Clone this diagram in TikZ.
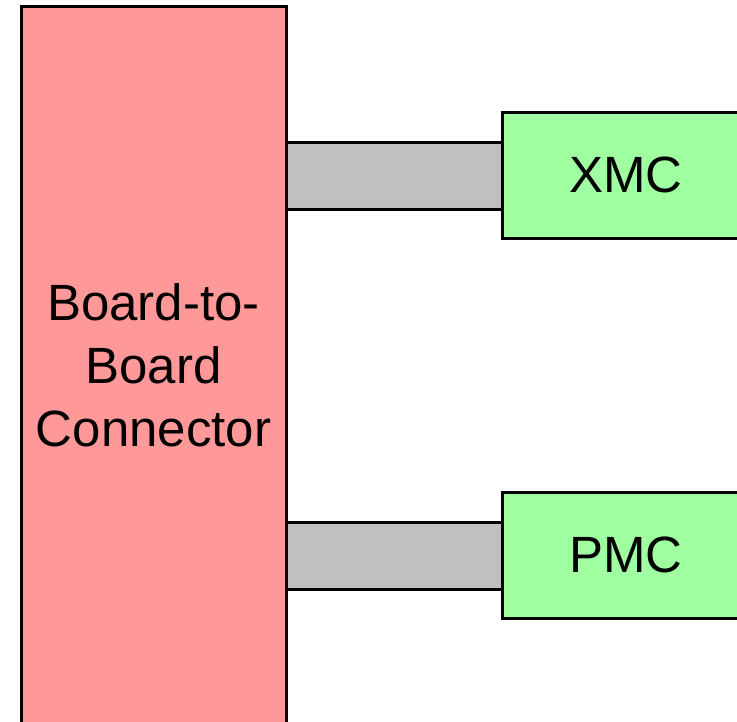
\documentclass[tikz,border=0pt]{standalone}
\usepackage{fontspec}
\setmainfont{Liberation Sans}
\definecolor{redfill}{HTML}{FF9999}
\definecolor{greenfill}{HTML}{A0FFA0}
\definecolor{grayfill}{HTML}{C0C0C0}
\begin{document}
\begin{tikzpicture}[x=1pt,y=1pt,
  box/.style={draw=black,line width=3pt,inner sep=0pt,outer sep=0pt,font=\fontsize{51}{63}\selectfont,align=center},
  bar/.style={draw=black,line width=3pt,fill=grayfill}]
\useasboundingbox (0,0) rectangle (737,-721);
\clip (0,0) rectangle (737,-721);
\node[box,fill=redfill,minimum width=265pt,minimum height=718pt] (b2b) at (153.5,-365) {Board-to-\\Board\\Connector};
\node[box,fill=greenfill,minimum width=248pt,minimum height=126pt] (xmc) at (626,-175) {XMC};
\node[box,fill=greenfill,minimum width=248pt,minimum height=126pt] (pmc) at (626,-555) {PMC};
\draw[bar] (b2b.east |- 0,-142) rectangle (xmc.west |- 0,-209);
\draw[bar] (b2b.east |- 0,-522) rectangle (pmc.west |- 0,-589);
\end{tikzpicture}
\end{document}
